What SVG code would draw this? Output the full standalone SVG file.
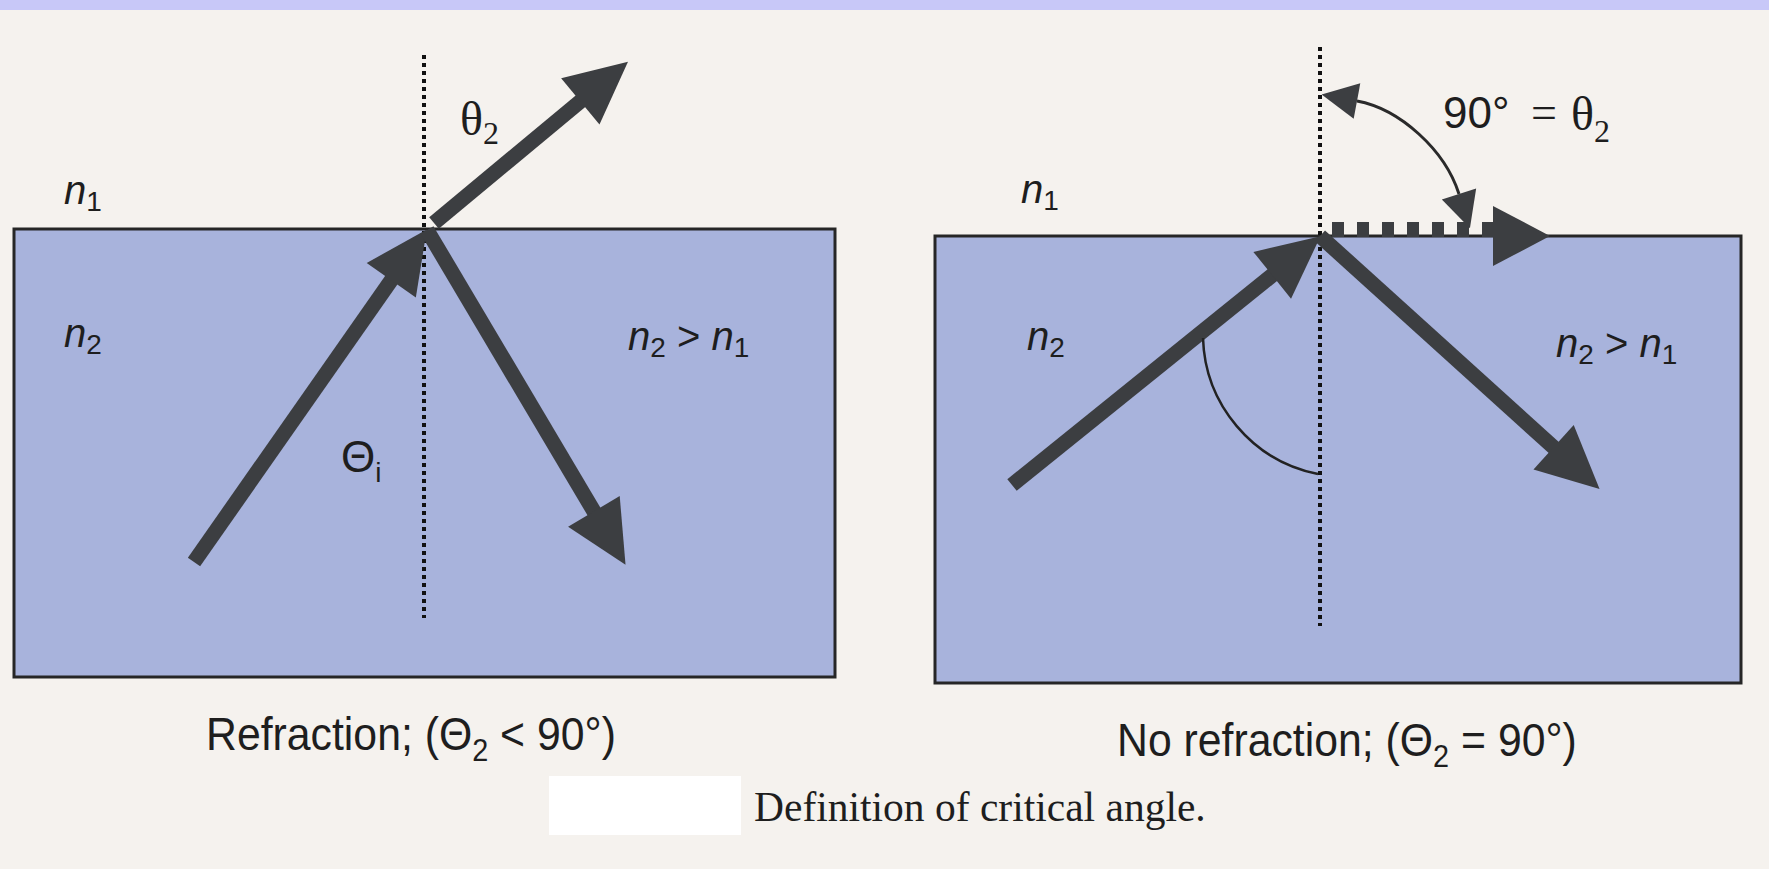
<svg xmlns="http://www.w3.org/2000/svg" width="1769" height="869" viewBox="0 0 1769 869">
<style>
.sans{font-family:"Liberation Sans",Arial,sans-serif;fill:#1e1e1e}
.serif{font-family:"Liberation Serif","Times New Roman",serif;fill:#1e1e1e}
.lbl{font-size:40px}
.it{font-style:italic}
.sub{font-size:28px}
.cap{font-size:46px}
.medium{fill:#a8b3dc;stroke:#262626;stroke-width:3}
.normal{stroke:#111;stroke-width:4;stroke-dasharray:4 4;fill:none}
.ray{stroke:#3c3e41;stroke-width:15;fill:none;marker-end:url(#head)}
.thin{stroke:#222;stroke-width:2.5;fill:none}
.fillhead{fill:#3c3e41}
</style>
<defs>
<marker id="head" markerUnits="userSpaceOnUse" markerWidth="80" markerHeight="80" refX="0" refY="0" orient="auto" overflow="visible">
<path d="M-10,-30 L52,0 L-10,30 Z" fill="#3c3e41"/>
</marker>
<marker id="small" markerUnits="userSpaceOnUse" markerWidth="50" markerHeight="50" refX="0" refY="0" orient="auto-start-reverse" overflow="visible">
<path d="M0,-18 L36,0 L0,18 Z" fill="#3c3e41"/>
</marker>
</defs>
<rect x="0" y="0" width="1769" height="869" fill="#f5f2ee"/>
<rect x="0" y="0" width="1769" height="10" fill="#c8c8f8"/>

<g id="left-medium">
<rect class="medium" x="14" y="229" width="821" height="448"/>
</g>
<g id="right-medium">
<rect class="medium" x="935" y="236" width="806" height="447"/>
</g>

<g id="connectors">
<line class="normal" x1="424" y1="55" x2="424" y2="618"/>
<line class="normal" x1="1320" y1="47" x2="1320" y2="626"/>
<path class="ray" d="M194,562 L397,272"/>
<path class="ray" d="M434,223 L588,95"/>
<path class="ray" d="M427,230 L599,520"/>
<path class="ray" d="M1012,485 L1280,269"/>
<path class="ray" d="M1320,236 L1561,454"/>
<line x1="1332" y1="229.5" x2="1494" y2="229.5" stroke="#3c3e41" stroke-width="15" stroke-dasharray="12 13"/>
<path class="fillhead" d="M1493,206 L1550,236 L1493,266 Z"/>
<path d="M1357,101 C1400,109 1445,150 1459,194" stroke="#2a2a2a" stroke-width="3" fill="none" marker-start="url(#small)" marker-end="url(#small)"/>
<path class="thin" d="M1203,338 A143,143 0 0 0 1318,474"/>
</g>

<g id="left-labels">
<text class="sans lbl" x="64" y="204"><tspan class="it">n</tspan><tspan class="sub" dy="7">1</tspan></text>
<text class="sans lbl" x="64" y="347"><tspan class="it">n</tspan><tspan class="sub" dy="7">2</tspan></text>
<text class="sans lbl" x="628" y="350"><tspan class="it">n</tspan><tspan class="sub" dy="7">2</tspan><tspan dy="-7"> &gt; </tspan><tspan class="it">n</tspan><tspan class="sub" dy="7">1</tspan></text>
<text class="serif" x="460" y="135" font-size="48">θ<tspan font-size="32" dy="9">2</tspan></text>
<text class="sans" x="341" y="472" font-size="44">Θ<tspan font-size="28" dy="10">i</tspan></text>
<text class="sans cap" transform="translate(206,750) scale(0.93,1)" x="0" y="0">Refraction; (Θ<tspan font-size="31" dy="11">2</tspan><tspan dy="-11"> &lt; 90°)</tspan></text>
</g>

<g id="right-labels">
<text class="sans lbl" x="1021" y="203"><tspan class="it">n</tspan><tspan class="sub" dy="7">1</tspan></text>
<text class="sans lbl" x="1027" y="350"><tspan class="it">n</tspan><tspan class="sub" dy="7">2</tspan></text>
<text class="sans lbl" x="1556" y="357"><tspan class="it">n</tspan><tspan class="sub" dy="7">2</tspan><tspan dy="-7"> &gt; </tspan><tspan class="it">n</tspan><tspan class="sub" dy="7">1</tspan></text>
<text class="sans" x="1443" y="128" font-size="44">90°</text>
<text class="serif" x="1531" y="128" font-size="46">=</text>
<text class="serif" x="1571" y="130" font-size="48">θ<tspan font-size="32" dy="12">2</tspan></text>
<text class="sans cap" transform="translate(1117,756) scale(0.93,1)" x="0" y="0">No refraction; (Θ<tspan font-size="31" dy="11">2</tspan><tspan dy="-11"> = 90°)</tspan></text>
</g>

<g id="caption">
<rect x="549" y="776" width="192" height="59" fill="#ffffff"/>
<text class="serif" x="754" y="821" font-size="41.5">Definition of critical angle.</text>
</g>
</svg>
